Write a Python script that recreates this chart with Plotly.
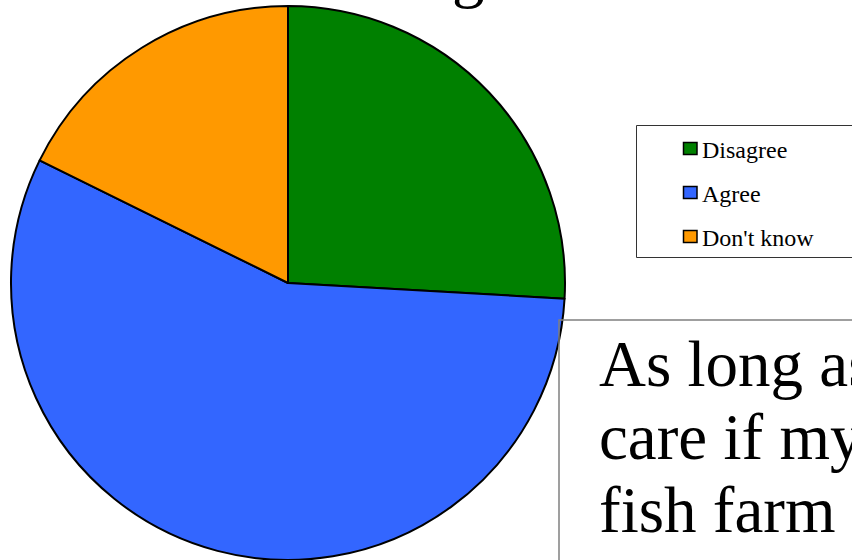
import plotly.graph_objects as go

# ---- data ----
labels = ["Disagree", "Agree", "Don't know"]
values = [25.9, 56.4, 17.7]
colors = ["#008000", "#3366FF", "#FF9900"]
title_fragment = "g"
statement_lines = [
    "As long as it's safe, I don't",
    "care if my salmon comes from a",
    "fish farm",
]

W, H = 852, 560
SERIF = "Liberation Serif, Times New Roman, serif"


def px(x):
    return x / W


def py(y):
    return 1 - y / H


fig = go.Figure()
fig.add_trace(go.Pie(
    labels=labels,
    values=values,
    marker=dict(colors=colors, line=dict(color="black", width=2)),
    sort=False,
    direction="clockwise",
    rotation=0,
    textinfo="none",
    hoverinfo="label+percent",
    showlegend=False,
    domain=dict(x=[px(11), px(565)], y=[py(560), py(6)]),
))

shapes = []
annotations = []

# legend box (drawn from the labels / colors lists)
shapes.append(dict(type="rect", xref="paper", yref="paper",
                   x0=px(636.5), x1=px(900), y0=py(125.5), y1=py(257.5),
                   line=dict(color="#333333", width=1), fillcolor="white"))
for i, (lab, col) in enumerate(zip(labels, colors)):
    yc = 148.5 + 44 * i
    shapes.append(dict(type="rect", xref="paper", yref="paper",
                       x0=px(683.5), x1=px(697), y0=py(yc - 6), y1=py(yc + 6),
                       line=dict(color="black", width=1.5), fillcolor=col))
    annotations.append(dict(xref="paper", yref="paper", x=px(700), y=py(yc + 1.5),
                            xanchor="left", yanchor="middle", showarrow=False,
                            text=lab, font=dict(family=SERIF, size=24, color="black")))

# statement text box
shapes.append(dict(type="rect", xref="paper", yref="paper",
                   x0=px(559), x1=px(1000), y0=py(320), y1=py(700),
                   line=dict(color="#808080", width=1.5), fillcolor="rgba(0,0,0,0)"))
for i, line in enumerate(statement_lines):
    yc = 364 + 73 * i
    annotations.append(dict(xref="paper", yref="paper", x=px(597), y=py(yc),
                            xanchor="left", yanchor="middle", showarrow=False,
                            text=line, font=dict(family=SERIF, size=65, color="black")))

# title fragment, mostly above the visible area
annotations.append(dict(xref="paper", yref="paper", x=px(468), y=py(-27),
                        xanchor="center", yanchor="middle", showarrow=False,
                        text=title_fragment, font=dict(family=SERIF, size=65, color="black")))

fig.update_layout(
    width=W, height=H,
    margin=dict(l=0, r=0, t=0, b=0),
    paper_bgcolor="white",
    plot_bgcolor="white",
    shapes=shapes,
    annotations=annotations,
    showlegend=False,
)

fig.write_html(
    "out.html",
    config={"displayModeBar": False},
    post_script="document.body.style.margin='0';document.body.style.overflow='hidden';",
)
